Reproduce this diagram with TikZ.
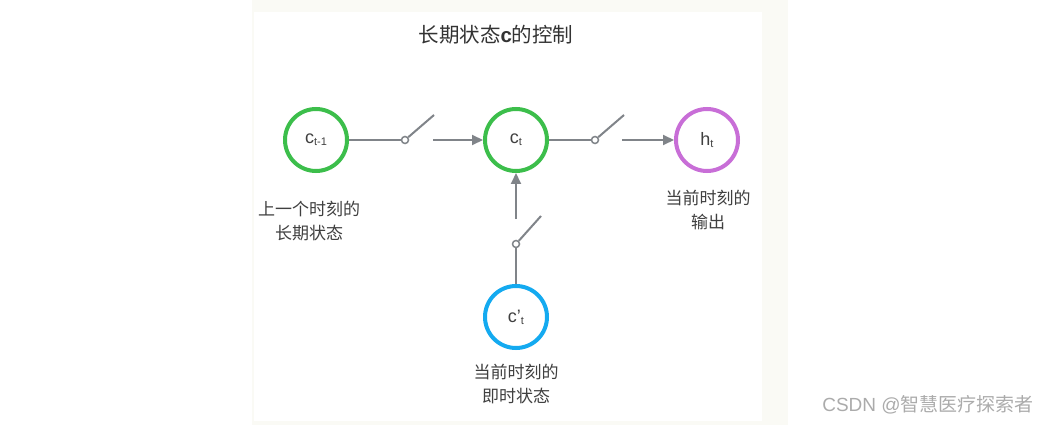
\documentclass[tikz,border=0pt]{standalone}
\usepackage{fontspec}
\setmainfont{Liberation Sans}
\newfontfamily\cjk{Noto Sans CJK SC}
\usetikzlibrary{arrows.meta}
\definecolor{StateGreen}{RGB}{60,190,75}
\definecolor{OutPurple}{RGB}{200,110,215}
\definecolor{CandBlue}{RGB}{20,170,240}
\definecolor{WireGray}{RGB}{128,132,137}
\definecolor{PanelTint}{RGB}{250,250,245}
\newcommand{\lowidx}[1]{\raisebox{-2pt}{\fontsize{11}{11}\selectfont #1}}

\begin{document}
\begin{tikzpicture}[
        x=1pt, y=-1pt,
        state/.style={
            circle,
            line width=4pt,
            minimum size=62pt,
            inner sep=0pt,
            fill=white,
            text=black!75,
            font=\fontsize{18}{18}\selectfont
        },
        pivot/.style={
            circle,
            draw=WireGray,
            line width=1.5pt,
            fill=white,
            minimum size=7pt,
            inner sep=0pt
        },
        wire/.style={
            draw=WireGray,
            line width=2pt
        },
        arrow/.style={
            wire,
            -{Triangle[length=11pt,width=10pt]}
        },
        caption/.style={
            font=\cjk\fontsize{17}{24}\selectfont,
            text=black!75,
            align=center
        }
    ]

    \useasboundingbox (0,0) rectangle (1050,425);

    % Panel
    \fill[PanelTint] (252,0) rectangle (788,425);
    \fill[white] (254,12) rectangle (762,421);

    \node[font=\fontsize{20.5}{20.5}\selectfont, text=black!80] (title) at (496,35)
        {{\cjk 长期状态}\textbf{c}{\cjk 的控制}};

    % States
    \node[state, draw=StateGreen] (cprev) at (316,140) {c\lowidx{t-1}};
    \node[state, draw=StateGreen] (ccur) at (516,140) {c\lowidx{t}};
    \node[state, draw=OutPurple] (hout) at (707,140) {h\lowidx{t}};
    \node[state, draw=CandBlue] (ccand) at (516,317) {c'\lowidx{t}};

    \node[caption] (lprev) at (309,221) {上一个时刻的\\长期状态};
    \node[caption] (lout) at (708,210) {当前时刻的\\输出};
    \node[caption] (lcand) at (516,384) {当前时刻的\\即时状态};

    % Forget switch
    \node[pivot] (p1) at (405,140) {};
    \coordinate (e1) at (434,115);
    \coordinate (a1) at (433,140);
    \draw[wire] (cprev) -- (p1);
    \draw[wire] (p1) -- (e1);
    \draw[arrow] (a1) -- (ccur);

    % Output switch
    \node[pivot] (p2) at (595,140) {};
    \coordinate (e2) at (624,115);
    \coordinate (a2) at (622,140);
    \draw[wire] (ccur) -- (p2);
    \draw[wire] (p2) -- (e2);
    \draw[arrow] (a2) -- (hout);

    % Input switch
    \node[pivot] (p3) at (516,244) {};
    \coordinate (e3) at (541,216);
    \coordinate (a3) at (516,219);
    \draw[wire] (ccand) -- (p3);
    \draw[wire] (p3) -- (e3);
    \draw[arrow] (a3) -- (ccur);

    \node[font=\fontsize{19}{19}\selectfont, text=black!33] (mark) at (928,405)
        {CSDN @{\cjk 智慧医疗探索者}};

\end{tikzpicture}
\end{document}
